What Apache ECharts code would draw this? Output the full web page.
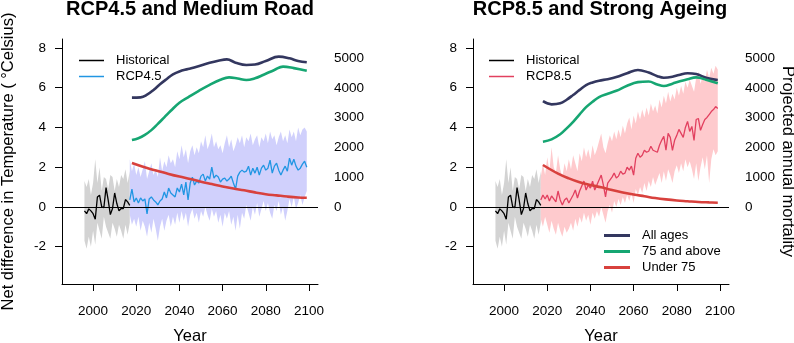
<!DOCTYPE html>
<html>
<head>
<meta charset="utf-8">
<script src="https://cdn.jsdelivr.net/npm/echarts@6/dist/echarts.min.js"></script>
<style>
  html, body { margin: 0; padding: 0; background: #fff; }
  #chart { width: 794px; height: 343px; }
</style>
</head>
<body>
<div id="chart"></div>
<script>
  // observed temperature anomaly, 1996-2017
  const histStart = 1996
  const histLine = [-0.2, -0.34, -0.1, -0.2, -0.34, -0.62, 0.5, 0.59, 0.0, -0.03, 0.97, 0.34, -0.39, -0.08, 0.7, 0.17, -0.2, -0.08, -0.08, 0.37, 0.25, 0.08]
  const histUpper = [1.3, 1.0, 1.4, 0.6, 1.2, 2.4, 1.2, 2.0, 0.8, 1.5, 1.4, 0.9, 1.6, 1.5, 0.8, 1.4, 1.0, 1.6, 1.4, 1.9, 1.2, 1.8]
  const histLower = [-1.7, -2.1, -1.5, -2.0, -1.2, -1.9, -0.8, -1.2, -1.6, -0.5, -1.0, -1.3, -1.6, -0.8, -1.1, -1.5, -0.9, -1.2, -1.6, -0.9, -1.4, -0.8]

  // projections, 2017-2099
  const projStart = 2017
  const rcp45Line = [0.35, 0.90, 0.25, 0.45, 0.20, 0.45, 0.30, 0.40, -0.35, 0.40, 0.50, 0.35, 0.25, 0.10, 0.30, 0.40, 0.75, 0.45, 0.95, 0.70,
    0.60, 0.50, 0.95, 0.75, 1.15, 0.60, 1.25, 0.35, 1.20, 1.50, 1.10, 1.30, 1.20, 1.55, 1.65, 1.30, 1.55, 1.40, 2.00, 1.45,
    1.60, 1.50, 1.25, 1.40, 1.45, 1.30, 1.40, 1.55, 1.20, 0.90, 1.55, 1.75, 1.85, 1.75, 1.80, 2.05, 1.60, 1.95, 1.70, 2.00,
    1.60, 1.95, 2.10, 1.85, 1.95, 2.35, 1.70, 2.05, 2.20, 1.85, 1.60, 1.85, 2.05, 1.80, 2.45, 2.10, 2.40, 2.05, 1.85, 1.95,
    2.15, 2.30, 2.00]
  const rcp45Upper = [2.4, 1.8, 2.2, 1.6, 2.0, 1.5, 1.9, 2.3, 1.4, 1.8, 2.2, 1.6, 1.9, 1.5, 2.5, 1.8, 2.3, 2.0, 2.6, 2.2,
    2.4, 2.0, 2.8, 2.4, 3.1, 2.5, 2.9, 2.2, 2.8, 3.1, 2.6, 3.0, 2.7, 3.3, 3.0, 3.6, 2.9, 3.2, 3.7, 3.0,
    3.3, 2.9, 3.1, 2.7, 3.2, 3.6, 3.0, 3.4, 2.8, 3.1, 3.5, 3.2, 3.6, 3.0, 3.5, 3.3, 3.7, 3.1, 3.4, 3.6,
    3.0, 3.5, 3.3, 3.7, 3.2, 3.8, 3.4, 3.6, 3.1, 3.5, 3.8, 3.3, 3.6, 3.2, 3.9, 3.5, 3.8, 3.3, 4.0, 3.6,
    3.9, 4.0, 3.8]
  const rcp45Lower = [-0.4, -0.9, -0.6, -1.0, -0.5, -1.2, -0.7, -1.0, -1.5, -0.8, -1.3, -0.6, -1.1, -1.7, -1.0, -0.6, -1.2, -0.7, -0.4, -1.0,
    -0.5, -0.9, -0.3, -0.8, -0.2, -0.7, -0.3, -1.0, -0.4, -0.1, -0.6, -0.3, -0.8, -0.2, -0.5, 0.0, -0.4, -0.7, -0.1, -0.5,
    -0.2, -0.8, -0.4, -1.0, -0.3, -0.6, -0.2, -0.9, -0.5, -1.2, -0.4, -1.1, -0.3, -0.6, 0.1, -0.3, -0.7, 0.0, -0.4, 0.2,
    -0.5, -0.1, 0.3, -0.2, 0.2, -0.3, -0.6, 0.1, -0.2, 0.3, -0.4, 0.0, -0.7, -0.2, 0.4, 0.0, 0.5, -0.1, 0.2, 0.6,
    0.1, 0.5, 0.8]

  const rcp85Line = [0.35, 0.60, 0.40, 0.60, 0.30, 0.55, 0.40, 0.25, 0.80, 0.35, 0.10, 0.35, 0.45, 0.20, 0.40, 0.60, 0.85, 0.45, 0.80, 1.05,
    1.30, 0.85, 1.10, 0.95, 1.30, 0.85, 1.10, 1.35, 1.60, 1.10, 0.50, 1.20, 1.35, 1.50, 1.70, 1.45, 1.55, 1.80, 1.65, 1.70,
    2.00, 1.85, 2.05, 1.60, 2.45, 2.70, 2.50, 2.60, 2.85, 2.75, 2.80, 3.05, 2.85, 2.80, 2.75, 3.10, 3.35, 3.55, 2.85, 3.70,
    3.50, 2.85, 3.35, 3.60, 3.90, 3.70, 3.50, 4.00, 4.30, 3.80, 4.05, 3.35, 4.40, 4.45, 3.85, 4.15, 4.40, 4.50, 4.65, 4.80,
    4.90, 5.05, 4.95]
  const rcp85Upper = [1.5, 2.2, 1.6, 2.5, 1.8, 3.0, 2.0, 1.7, 2.6, 1.9, 1.5, 2.2, 1.8, 2.4, 1.9, 2.6, 2.2, 1.8, 2.7, 2.3,
    3.0, 2.5, 2.9, 2.4, 3.1, 2.6, 2.9, 3.3, 3.7, 3.0, 2.7, 3.2, 3.6, 3.3, 3.8, 3.4, 3.9, 3.5, 4.1, 3.7,
    4.2, 4.5, 3.9, 4.6, 4.2, 4.8, 4.4, 4.9, 4.5, 5.0, 4.6, 5.2, 4.8, 5.1, 4.7, 5.4, 5.0, 5.6, 5.2, 5.8,
    5.3, 5.7, 5.4, 6.0, 5.6, 6.1, 5.7, 6.3, 6.0, 6.4, 6.1, 5.8, 6.5, 6.8, 6.2, 6.6, 6.3, 6.9, 6.5, 7.0,
    6.7, 7.1, 6.9]
  const rcp85Lower = [-0.6, -1.0, -0.5, -0.9, -1.3, -0.7, -1.1, -1.4, -0.8, -1.2, -1.5, -1.0, -1.3, -1.1, -0.8, -1.2, -0.6, -1.0, -0.5, -0.8,
    -0.3, -0.7, -0.4, -0.9, -0.3, -0.6, -0.2, -0.5, 0.0, -0.4, -0.8, -0.2, 0.1, -0.3, 0.3, 0.0, 0.4, 0.1, 0.5, 0.2,
    0.6, 0.3, 0.7, 0.2, 0.9, 0.6, 1.0, 0.7, 1.2, 0.8, 1.3, 1.0, 1.5, 1.1, 1.4, 1.7, 1.2, 1.8, 1.3, 1.9,
    1.6, 1.2, 1.8, 2.1, 1.7, 2.2, 1.8, 2.4, 2.0, 2.3, 1.9, 1.4, 2.2, 1.3, 2.0, 2.5, 1.9, 2.6, 1.2, 2.4,
    2.9, 2.6, 2.8]

  // projected annual mortality (right axis)
  const allAgesYearsL = [2018, 2022, 2025, 2028, 2031, 2034, 2037, 2040, 2044, 2048, 2054, 2058, 2062, 2066, 2071, 2075, 2080, 2086, 2091, 2095, 2099]
  const allAgesL = [3670, 3680, 3770, 3930, 4120, 4290, 4450, 4550, 4630, 4710, 4840, 4910, 4955, 4845, 4765, 4780, 4900, 5045, 4990, 4900, 4855]
  const over75YearsL = [2018, 2021, 2024, 2027, 2030, 2033, 2036, 2040, 2044, 2049, 2054, 2059, 2063, 2067, 2071, 2075, 2079, 2084, 2088, 2093, 2099]
  const over75L = [2250, 2310, 2420, 2580, 2790, 3010, 3230, 3500, 3680, 3900, 4100, 4270, 4350, 4310, 4260, 4320, 4440, 4600, 4710, 4660, 4570]
  const under75YearsL = [2018, 2025, 2030, 2035, 2040, 2045, 2050, 2055, 2060, 2065, 2070, 2075, 2080, 2085, 2090, 2095, 2099]
  const under75L = [1480, 1310, 1210, 1110, 1020, 940, 850, 770, 690, 620, 560, 490, 430, 390, 350, 320, 310]

  const allAgesYearsR = [2018, 2022, 2026, 2029, 2032, 2035, 2038, 2041, 2044, 2048, 2052, 2057, 2062, 2067, 2071, 2074, 2078, 2081, 2085, 2089, 2094, 2099]
  const allAgesR = [3550, 3445, 3480, 3600, 3760, 3930, 4090, 4180, 4240, 4290, 4360, 4490, 4600, 4510, 4390, 4340, 4370, 4430, 4490, 4460, 4330, 4260]
  const over75R = [2190, 2270, 2440, 2640, 2860, 3110, 3350, 3530, 3690, 3800, 3900, 4070, 4190, 4210, 4110, 4060, 4140, 4210, 4290, 4350, 4260, 4150]
  const under75YearsR = [2018, 2025, 2030, 2035, 2040, 2045, 2050, 2055, 2060, 2065, 2070, 2075, 2080, 2085, 2090, 2095, 2099]
  const under75R = [1410, 1120, 960, 830, 740, 660, 570, 490, 420, 360, 300, 255, 220, 195, 170, 155, 145]

  const yearTicks = [2000, 2020, 2040, 2060, 2080, 2100]
  const tempTicks = [-2, 0, 2, 4, 6, 8]
  const mortTicks = [0, 1000, 2000, 3000, 4000, 5000]

  const FONT = 'Liberation Sans, Arial, sans-serif'
  const C = {
    hist: '#000000', histBand: '#d3d3d3',
    rcp45: '#2196e3', rcp45Band: '#d0d0fc',
    rcp85: '#e2405f', rcp85Band: '#fecacd',
    all: '#33375f', over: '#16a672', under: '#d8413d',
  }

  const yearly = (start, vals) => vals.map((v, i) => [start + i, v])
  const zip = (xs, ys) => xs.map((x, i) => [x, ys[i]])
  const plain = (v) => String(v)

  // shaded range between lower and upper, one polygon through the axis scales
  const band = (id, start, lower, upper, color, xi, yi) => ({
    name: id, type: 'custom', xAxisIndex: xi, yAxisIndex: yi, silent: true, z: 1,
    data: lower.map((l, i) => [start + i, l, upper[i]]),
    encode: { x: 0, y: [1, 2] },
    renderItem: (params, api) => {
      if (params.dataIndex !== 0) return null
      const pts = []
      for (let i = 0; i < upper.length; i++) pts.push(api.coord([start + i, upper[i]]))
      for (let i = lower.length - 1; i >= 0; i--) pts.push(api.coord([start + i, lower[i]]))
      return { type: 'polygon', shape: { points: pts }, style: { fill: color } }
    },
  })

  const thin = (name, data, color, xi, yi, extra) => Object.assign({
    name, type: 'line', xAxisIndex: xi, yAxisIndex: yi, symbol: 'none', z: 3,
    itemStyle: { color }, lineStyle: { color, width: 1.3 }, data,
  }, extra || {})

  const thick = (name, data, color, xi, yi) => ({
    name, type: 'line', xAxisIndex: xi, yAxisIndex: yi, symbol: 'none', z: 4,
    smooth: 0.4, itemStyle: { color }, lineStyle: { color, width: 2.6 }, data,
  })

  const zeroLine = {
    silent: true, symbol: 'none', label: { show: false },
    lineStyle: { color: '#000', width: 1, type: 'solid' },
    data: [{ yAxis: 0 }],
  }

  const xAxisOf = (gi) => ({
    type: 'value', gridIndex: gi, min: 1985.6, max: 2104.2,
    axisLine: { show: true, onZero: false, lineStyle: { color: '#000', width: 1 } },
    axisTick: { show: true, customValues: yearTicks, length: 7, lineStyle: { color: '#000' } },
    axisLabel: { customValues: yearTicks, formatter: plain, fontSize: 13.5, color: '#000', margin: 20, fontFamily: FONT },
    splitLine: { show: false },
    name: 'Year', nameLocation: 'middle', nameGap: 44,
    nameTextStyle: { fontSize: 16.5, color: '#000', fontFamily: FONT },
  })

  const tempAxisOf = (gi, name) => ({
    type: 'value', gridIndex: gi, position: 'left', min: -3.88, max: 8.45,
    axisLine: { show: true, onZero: false, lineStyle: { color: '#000', width: 1 } },
    axisTick: { show: true, customValues: tempTicks, length: 7, lineStyle: { color: '#000' } },
    axisLabel: { customValues: tempTicks, formatter: plain, fontSize: 13.5, color: '#000', margin: 16, fontFamily: FONT },
    splitLine: { show: false },
    name: name, nameLocation: 'middle', nameGap: 45,
    nameTextStyle: { fontSize: 16.5, color: '#000', fontFamily: FONT },
  })

  const mortAxisOf = (gi, name) => ({
    type: 'value', gridIndex: gi, position: 'right', min: -2584, max: 5638,
    axisLine: { show: false }, axisTick: { show: false },
    axisLabel: { customValues: mortTicks, formatter: plain, fontSize: 13.5, color: '#000', margin: 16, align: 'left', fontFamily: FONT },
    splitLine: { show: false },
    name: name, nameLocation: 'middle', nameGap: 50, nameRotate: -90,
    nameTextStyle: { fontSize: 16.5, color: '#000', fontFamily: FONT },
  })

  const legendText = { fontSize: 13, color: '#000', fontFamily: FONT, padding: [0, 0, 0, 7] }

  const chart = echarts.init(document.getElementById('chart'))
  chart.setOption({
    animation: false,
    backgroundColor: '#fff',
    title: [
      { text: 'RCP4.5 and Medium Road', left: 190, top: -1, padding: 0, textAlign: 'center',
        textStyle: { fontSize: 20, fontWeight: 'bold', color: '#000', fontFamily: FONT } },
      { text: 'RCP8.5 and Strong Ageing', left: 600, top: -1, padding: 0, textAlign: 'center',
        textStyle: { fontSize: 20, fontWeight: 'bold', color: '#000', fontFamily: FONT } },
    ],
    legend: [
      { data: ['Historical', 'RCP4.5'], orient: 'vertical', left: 79, top: 54, padding: 0,
        icon: 'rect', itemWidth: 25, itemHeight: 1.5, itemGap: 3, selectedMode: false, textStyle: legendText },
      { data: ['Historical', 'RCP8.5'], orient: 'vertical', left: 489, top: 54, padding: 0,
        icon: 'rect', itemWidth: 25, itemHeight: 1.5, itemGap: 3, selectedMode: false, textStyle: legendText },
      { data: ['All ages', '75 and above', 'Under 75'], orient: 'vertical', left: 604, top: 229, padding: 0,
        icon: 'rect', itemWidth: 26, itemHeight: 3, itemGap: 3, selectedMode: false, textStyle: legendText },
    ],
    grid: [
      { left: 62, top: 39, width: 256, height: 245, outerBoundsMode: 'none' },
      { left: 473, top: 39, width: 256, height: 245, outerBoundsMode: 'none' },
    ],
    xAxis: [xAxisOf(0), xAxisOf(1)],
    yAxis: [
      tempAxisOf(0, 'Net difference in Temperature ( °Celsius)'),
      mortAxisOf(0, ''),
      tempAxisOf(1, ''),
      mortAxisOf(1, 'Projected annual mortality'),
    ],
    series: [
      // left panel
      band('histBandL', histStart, histLower, histUpper, C.histBand, 0, 0),
      band('rcp45Band', projStart, rcp45Lower, rcp45Upper, C.rcp45Band, 0, 0),
      thin('Historical', yearly(histStart, histLine), C.hist, 0, 0, { markLine: zeroLine }),
      thin('RCP4.5', yearly(projStart, rcp45Line), C.rcp45, 0, 0),
      thick('All ages', zip(allAgesYearsL, allAgesL), C.all, 0, 1),
      thick('75 and above', zip(over75YearsL, over75L), C.over, 0, 1),
      thick('Under 75', zip(under75YearsL, under75L), C.under, 0, 1),
      // right panel
      band('histBandR', histStart, histLower, histUpper, C.histBand, 1, 2),
      band('rcp85Band', projStart, rcp85Lower, rcp85Upper, C.rcp85Band, 1, 2),
      thin('Historical', yearly(histStart, histLine), C.hist, 1, 2, { markLine: zeroLine }),
      thin('RCP8.5', yearly(projStart, rcp85Line), C.rcp85, 1, 2),
      thick('All ages', zip(allAgesYearsR, allAgesR), C.all, 1, 3),
      thick('75 and above', zip(allAgesYearsR, over75R), C.over, 1, 3),
      thick('Under 75', zip(under75YearsR, under75R), C.under, 1, 3),
    ],
  })
</script>
</body>
</html>
